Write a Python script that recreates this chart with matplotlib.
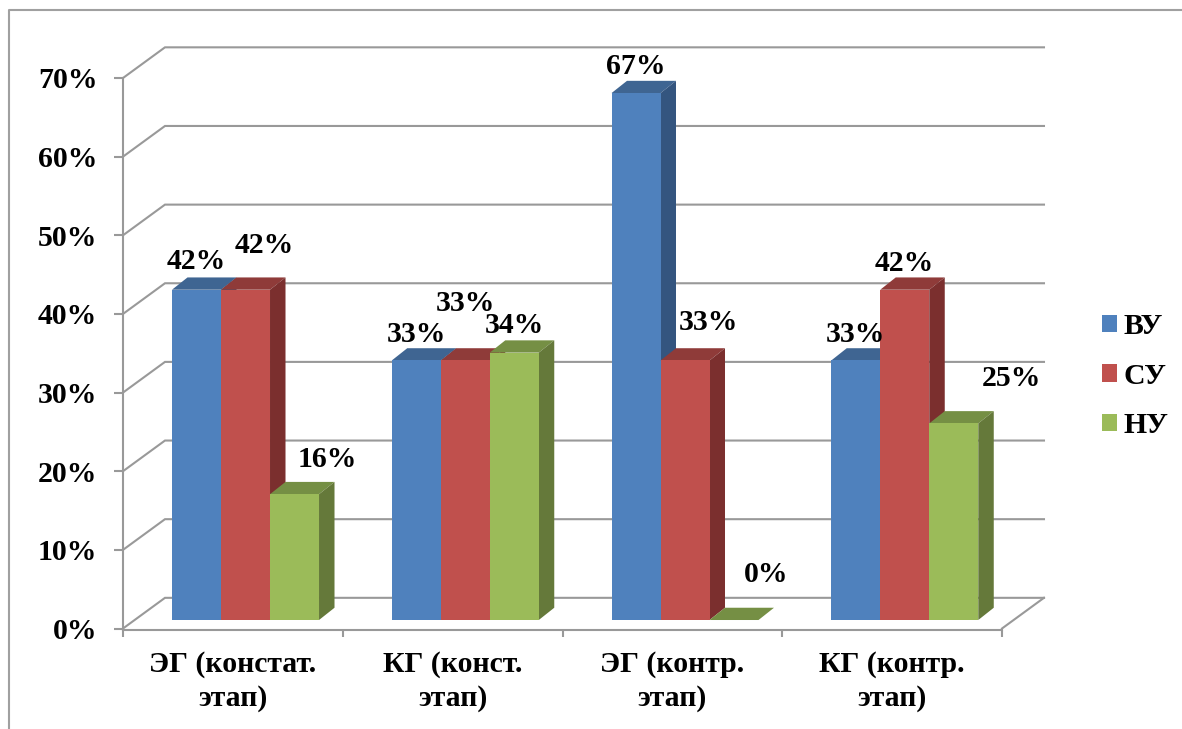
import matplotlib
matplotlib.use('Agg')
import matplotlib.pyplot as plt
from matplotlib.lines import Line2D
from matplotlib.patches import Patch

categories = ['ЭГ (констат.\nэтап)', 'КГ (конст.\nэтап)', 'ЭГ (контр.\nэтап)', 'КГ (контр.\nэтап)']
series_names = ['ВУ', 'СУ', 'НУ']
vu = [42, 33, 67, 33]
su = [42, 33, 33, 42]
nu = [16, 34, 0, 25]
y_ticks = [0, 10, 20, 30, 40, 50, 60, 70]

front_colors = ['#4F81BD', '#C0504D', '#9BBB59']
top_colors = ['#3F6592', '#8F3B39', '#758F44']
side_colors = ['#34557F', '#7B2F2E', '#65793A']
grid_color = '#999999'

# pixel nudges of the data labels, they were dragged by hand in the original
label_shift = [
    [(0, 28), (19, 44), (33, 35)],
    [(0, 26), (0, 57), (0, 27)],
    [(0, 27), (23, 38), (32, 46)],
    [(0, 26), (-1, 26), (58, 45)],
]

# fake 3d depth, in data units
wall_dx, wall_dy = 0.191, 3.9
bar_dx, bar_dy = 0.0705, 1.56
floor = 1.08
bar_w = 0.223
bar_start = 0.223

plt.rcParams['font.family'] = ['Liberation Serif']
plt.rcParams['font.weight'] = 'bold'
plt.rcParams['font.size'] = 21.4

W, H = 1182, 729
fig = plt.figure(figsize=(W / 100, H / 100), dpi=100)
ax = fig.add_axes([123 / W, (H - 628.5) / H, (1002 - 123) / W, (628.5 - 78) / H])
ax.set_xlim(0, 4)
ax.set_ylim(0, 70)
ax.patch.set_alpha(0)

# outer frame, only left and top are visible
fig.add_artist(Line2D([9.5 / W, 9.5 / W, 1], [0, (H - 9.5) / H, (H - 9.5) / H], color='#a0a0a0', lw=1.5))

# walls
for t in y_ticks:
    ax.plot([0, wall_dx, 4 + wall_dx], [t, t + wall_dy, t + wall_dy],
            color=grid_color, lw=1.5, clip_on=False, zorder=1, solid_joinstyle='miter')
ax.plot([4, 4 + wall_dx], [0, wall_dy], color=grid_color, lw=1.5, clip_on=False, zorder=1)

# bars
all_values = [vu, su, nu]
z = 3
for i in range(len(categories)):
    for j, values in enumerate(all_values):
        v = values[i]
        x0 = i + bar_start + j * bar_w
        x1 = x0 + bar_w
        top = floor + v
        ax.fill([x0, x1, x1 + bar_dx, x0 + bar_dx], [top, top, top + bar_dy, top + bar_dy],
                color=top_colors[j], lw=0, zorder=z)
        if v > 0:
            ax.fill([x1, x1 + bar_dx, x1 + bar_dx, x1], [floor, floor + bar_dy, top + bar_dy, top],
                    color=side_colors[j], lw=0, zorder=z)
        ax.bar(x0, v, bar_w, bottom=floor, align='edge', color=front_colors[j], lw=0, zorder=z + 0.5)
        ax.annotate(f'{v}%', (x0 + bar_w / 2, top), xytext=label_shift[i][j], textcoords='offset pixels',
                    ha='center', va='center', zorder=20, annotation_clip=False)
        z += 1

for side in ['top', 'right']:
    ax.spines[side].set_visible(False)
for side in ['left', 'bottom']:
    ax.spines[side].set_color(grid_color)
    ax.spines[side].set_linewidth(1.5)
ax.spines['bottom'].set_position(('outward', 1.2))

ax.set_yticks(y_ticks)
ax.set_yticklabels([f'{t}%' for t in y_ticks])
ax.tick_params(axis='y', length=6.5, width=1.5, color=grid_color, pad=12)
ax.set_xticks(range(5))
ax.set_xticklabels([])
ax.tick_params(axis='x', which='major', length=5, width=1.5, color=grid_color)
ax.set_xticks([0.5, 1.5, 2.5, 3.5], minor=True)
ax.set_xticklabels(categories, minor=True, linespacing=1.3)
ax.tick_params(axis='x', which='minor', length=0, pad=15)

handles = [Patch(color=c, lw=0) for c in front_colors]
ax.legend(handles, series_names, loc='center left', bbox_to_anchor=(1093 / W, (H - 376) / H),
          bbox_transform=fig.transFigure, frameon=False, handlelength=0.52, handleheight=0.52,
          handletextpad=0.2, labelspacing=0.76, borderpad=0, borderaxespad=0.3)

fig.savefig('out.png', dpi=100, facecolor='white')
